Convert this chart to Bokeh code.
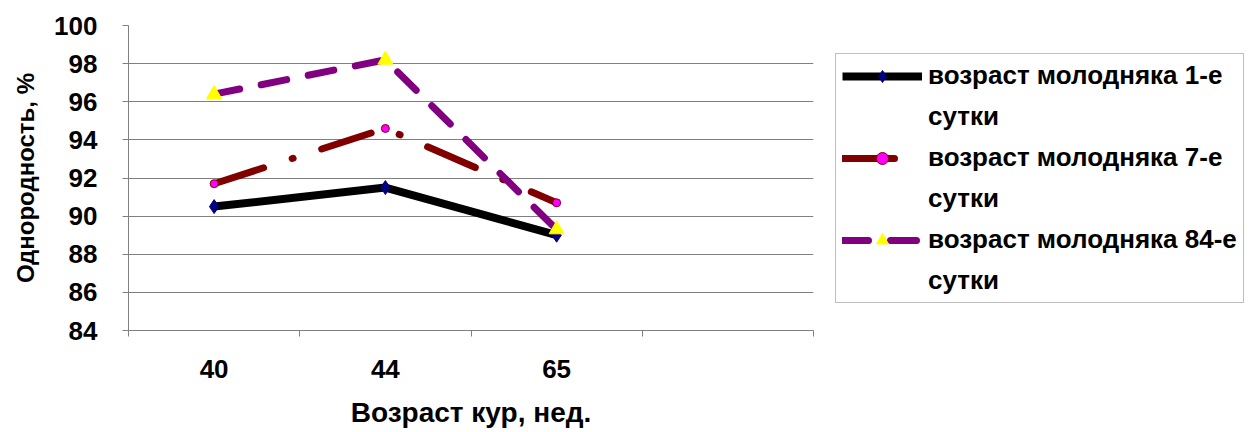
from bokeh.plotting import figure
from bokeh.models import Range1d, FixedTicker, Legend, LegendItem
from bokeh.embed import file_html
from bokeh.resources import INLINE

categories = ["40", "44", "65"]
series_first = ["возраст молодняка 1-е", "возраст молодняка 7-е", "возраст молодняка 84-е"]
series_second = ["сутки", "сутки", "сутки"]
values_1 = [90.5, 91.5, 89.0]
values_7 = [91.7, 94.6, 90.7]
values_84 = [96.4, 98.2, 89.3]
y_ticks = [84, 86, 88, 90, 92, 94, 96, 98, 100]
n_slots = 4

FONT = "Liberation Sans"
xs = [i + 0.5 for i in range(len(categories))]

p = figure(frame_width=685, frame_height=305, output_backend="svg", toolbar_location=None,
           x_range=Range1d(0, n_slots), y_range=Range1d(84, 100),
           min_border_left=128, min_border_right=443, min_border_top=25, min_border_bottom=102)
p.outline_line_color = None
p.background_fill_color = "white"
p.xgrid.visible = False
p.ygrid.ticker = FixedTicker(ticks=y_ticks[1:-1])
p.ygrid.grid_line_color = "#808080"
p.ygrid.grid_line_width = 1

# axes
p.yaxis.ticker = FixedTicker(ticks=y_ticks)
p.yaxis.axis_line_color = "#808080"
p.yaxis.major_tick_line_color = "#808080"
p.yaxis.major_tick_out = 6
p.yaxis.major_tick_in = 0
p.yaxis.minor_tick_line_color = None
p.yaxis.major_label_standoff = 25
p.yaxis.major_label_text_font = FONT
p.yaxis.major_label_text_font_size = "26px"
p.yaxis.major_label_text_font_style = "bold"
p.yaxis.major_label_text_color = "black"
p.yaxis.axis_label = "Однородность, %"
p.yaxis.axis_label_text_font = FONT
p.yaxis.axis_label_text_font_size = "24px"
p.yaxis.axis_label_text_font_style = "bold"
p.yaxis.axis_label_text_color = "black"
p.yaxis.axis_label_standoff = 12

p.xaxis.ticker = FixedTicker(ticks=xs, minor_ticks=list(range(n_slots + 1)))
p.xaxis.major_label_overrides = {x: c for x, c in zip(xs, categories)}
p.xaxis.axis_line_color = "#808080"
p.xaxis.major_tick_line_color = None
p.xaxis.major_tick_out = 0
p.xaxis.major_tick_in = 0
p.xaxis.minor_tick_line_color = "#808080"
p.xaxis.minor_tick_out = 6
p.xaxis.minor_tick_in = 0
p.xaxis.major_label_standoff = 23
p.xaxis.major_label_text_font = FONT
p.xaxis.major_label_text_font_size = "26px"
p.xaxis.major_label_text_font_style = "bold"
p.xaxis.major_label_text_color = "black"
p.xaxis.axis_label = "Возраст кур, нед."
p.xaxis.axis_label_text_font = FONT
p.xaxis.axis_label_text_font_size = "28px"
p.xaxis.axis_label_text_font_style = "bold"
p.xaxis.axis_label_text_color = "black"
p.xaxis.axis_label_standoff = 16

# series
l1 = p.line(xs, values_1, line_color="black", line_width=8, line_join="round")
m1 = p.scatter(xs, values_1, marker="diamond", size=14, fill_color="#000080", line_color="#000080")

l2 = p.line(xs, values_7, line_color="#800000", line_width=7, line_dash="52 30 1 30",
            line_cap="round")
m2 = p.scatter(xs, values_7, marker="circle", size=8, fill_color="#FF00FF", line_color="#800000",
               line_width=1)

l3 = p.line(xs, values_84, line_color="#800080", line_width=7, line_dash="26 22",
            line_cap="round")
m3 = p.scatter(xs, values_84, marker="triangle", size=15, fill_color="#FFFF00", line_color="#FFFF00")

# invisible renderer used for the second (wrapped) line of each legend label
blank = p.scatter([], [], alpha=0)

items = []
for first, second, rends in zip(series_first, series_second, [[l1, m1], [l2, m2], [l3, m3]]):
    items.append(LegendItem(label=first, renderers=rends))
    items.append(LegendItem(label=second, renderers=[blank]))

legend = Legend(items=items, location=(22, 27))
legend.label_text_font = FONT
legend.label_text_font_size = "26px"
legend.label_text_font_style = "bold"
legend.label_text_color = "black"
legend.border_line_color = "#808080"
legend.border_line_width = 1
legend.glyph_width = 80
legend.glyph_height = 30
legend.label_height = 30
legend.label_standoff = 6
legend.padding = 6
legend.spacing = 10
legend.margin = 0
legend.background_fill_alpha = 1
p.add_layout(legend, "right")

open("out.html", "w").write(file_html(p, INLINE))
